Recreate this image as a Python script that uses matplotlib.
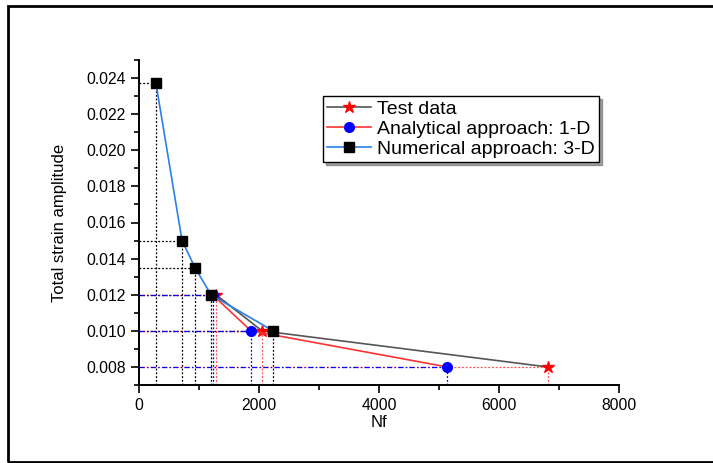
import matplotlib
matplotlib.use('Agg')
import matplotlib.pyplot as plt
from matplotlib.patches import Rectangle
from matplotlib.ticker import MultipleLocator, FormatStrFormatter

plt.rcParams['font.family'] = ['Liberation Sans', 'DejaVu Sans']

# ── data ──
test_nf = [1283, 2050, 6810]
test_eps = [0.012, 0.010, 0.008]

ana_nf = [1225, 1867, 5135]
ana_eps = [0.012, 0.010, 0.008]

num_nf = [283, 717, 933, 1200, 2233]
num_eps = [0.0237, 0.015, 0.0135, 0.012, 0.010]

X_MIN, X_MAX = 0, 8000
Y_MIN, Y_MAX = 0.007, 0.025

fig = plt.figure(figsize=(7.13, 4.63), dpi=100)
ax = fig.add_axes([139 / 713, 1 - 385 / 463, 480 / 713, 325 / 463])

# drop lines to the axes
for x, y in zip(num_nf, num_eps):
    ax.plot([X_MIN, x], [y, y], color='black', ls=(0, (1.5, 1.5)), lw=0.9, zorder=1)
    ax.plot([x, x], [Y_MIN, y], color='black', ls=(0, (1.5, 1.5)), lw=0.9, zorder=1)
for x, y in zip(test_nf, test_eps):
    ax.plot([X_MIN, x], [y, y], color='red', ls=(0, (1.5, 1.5)), lw=0.9, alpha=0.7, zorder=1)
    ax.plot([x, x], [Y_MIN, y], color='red', ls=(0, (1.5, 1.5)), lw=0.9, alpha=0.7, zorder=1)
for x, y in zip(ana_nf, ana_eps):
    ax.plot([X_MIN, x], [y, y], color='blue', ls=(0, (4, 2, 1, 2)), lw=0.9, zorder=1.5)
    ax.plot([x, x], [Y_MIN, y], color='blue', ls=(0, (1.5, 1.5)), lw=0.9, zorder=1.5)

ax.plot(test_nf, test_eps, color='#555555', lw=1.2, marker='*', ms=9,
        mfc='red', mec='red', label='Test data', zorder=3)
ax.plot(ana_nf, ana_eps, color='#ff3333', lw=1.2, marker='o', ms=7,
        mfc='blue', mec='blue', label='Analytical approach: 1-D', zorder=4)
ax.plot(num_nf, num_eps, color='#2a7fe8', lw=1.2, marker='s', ms=7,
        mfc='black', mec='black', label='Numerical approach: 3-D', zorder=5)

ax.set_xlim(X_MIN, X_MAX)
ax.set_ylim(Y_MIN, Y_MAX)
ax.xaxis.set_major_locator(MultipleLocator(2000))
ax.xaxis.set_minor_locator(MultipleLocator(1000))
ax.yaxis.set_major_locator(MultipleLocator(0.002))
ax.yaxis.set_minor_locator(MultipleLocator(0.001))
ax.yaxis.set_major_formatter(FormatStrFormatter('%.3f'))
ax.tick_params(which='major', direction='out', length=6, width=1.2, labelsize=11.3)
ax.tick_params(which='minor', direction='out', length=3.5, width=1.2)
for s in ['top', 'right']:
    ax.spines[s].set_visible(False)
for s in ['left', 'bottom']:
    ax.spines[s].set_linewidth(1.4)

ax.set_xlabel('Nf', fontsize=12, labelpad=1)
ax.set_ylabel('Total strain amplitude', fontsize=12, labelpad=14)

leg = ax.legend(loc='upper left', bbox_to_anchor=(0.383, 0.889), fontsize=14,
                frameon=True, fancybox=False, shadow=True, handlelength=2.3,
                borderpad=0.2, labelspacing=0.13, handletextpad=0.3, borderaxespad=0)
leg.get_frame().set_edgecolor('black')
leg.get_frame().set_linewidth(1.0)

# outer frame
fig.patches.append(Rectangle((8 / 713, 1 - 462 / 463), 720 / 713, 456 / 463,
                             transform=fig.transFigure, fill=False, edgecolor='black',
                             linewidth=2, zorder=10))

fig.savefig('out.png', dpi=100)
